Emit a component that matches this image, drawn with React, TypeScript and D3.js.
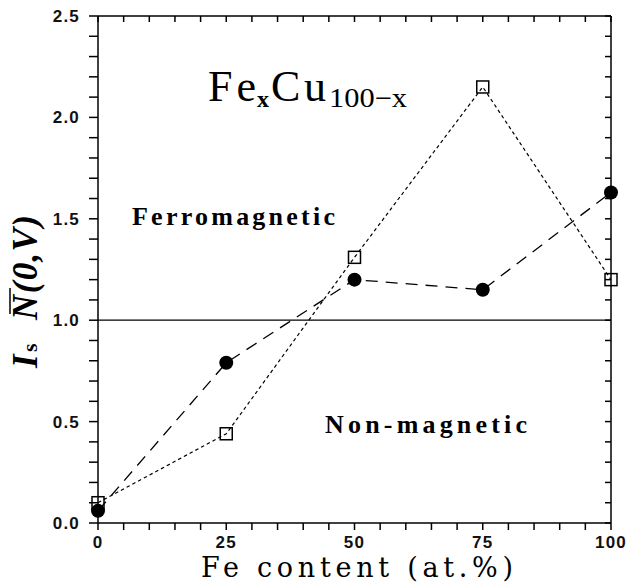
import React from "react";
import * as d3 from "d3";

const feContent = [0, 25, 50, 75, 100];
const circleValues = [0.06, 0.79, 1.2, 1.15, 1.63];
const squareValues = [0.1, 0.44, 1.31, 2.15, 1.2];
const xTickLabels = [0, 25, 50, 75, 100];
const yTickLabels = [0, 0.5, 1.0, 1.5, 2.0, 2.5];
const thresholdValue = 1.0;

const W = 629;
const H = 584;
const x = d3.scaleLinear().domain([0, 100]).range([98, 611]);
const y = d3.scaleLinear().domain([0, 2.5]).range([523, 16]);

export default function App() {
  const line = d3
    .line<number>()
    .x((_, i) => x(feContent[i]))
    .y((d) => y(d));
  const xMinor = d3.range(0, 101, 5);
  const yMinor = d3.range(0, 26, 1).map((v) => v / 10);
  const tickFont = "Liberation Sans, Arial, sans-serif";
  const times = "Liberation Serif, Times New Roman, serif";
  const wide = "DejaVu Serif, serif";
  const x0 = x(0), x1 = x(100), y0 = y(0), y1 = y(2.5);
  return (
    <svg width={W} height={H} style={{ position: "absolute", left: 0, top: 0, background: "#fff" }}>
      <rect width={W} height={H} fill="#fff" />
      {/* frame */}
      <g stroke="#000" strokeWidth={1.5} fill="none">
        <line x1={x0} x2={x1} y1={y0} y2={y0} />
        <line x1={x0} x2={x1} y1={y1} y2={y1} />
        <line x1={x0} x2={x0} y1={y1} y2={y0} />
        <line x1={x1} x2={x1} y1={y1} y2={y0} />
        {xMinor.map((v) => (
          <g key={"xt" + v}>
            <line x1={x(v)} x2={x(v)} y1={y0} y2={y0 + 7} />
            <line x1={x(v)} x2={x(v)} y1={y1} y2={y1 + 6} />
          </g>
        ))}
        {yMinor.map((v) => (
          <g key={"yt" + v}>
            <line x1={x0 - 9} x2={x0} y1={y(v)} y2={y(v)} />
            <line x1={x1 - 6} x2={x1} y1={y(v)} y2={y(v)} />
          </g>
        ))}
      </g>
      {/* tick labels */}
      <g fontFamily={tickFont} fontWeight="bold" fontSize={17} fill="#111">
        {xTickLabels.map((v) => (
          <text key={"xl" + v} x={x(v)} y={548} textAnchor="middle" letterSpacing={1.2}>
            {v}
          </text>
        ))}
        {yTickLabels.map((v) => (
          <text key={"yl" + v} x={80} y={y(v) + 6} textAnchor="end" letterSpacing={1.2}>
            {v.toFixed(1)}
          </text>
        ))}
      </g>
      {/* threshold line */}
      <line x1={x0} x2={x1} y1={y(thresholdValue)} y2={y(thresholdValue)} stroke="#000" strokeWidth={1.2} />
      {/* series lines */}
      <path d={line(circleValues) || ""} fill="none" stroke="#000" strokeWidth={1.3} strokeDasharray="12 8" />
      <path d={line(squareValues) || ""} fill="none" stroke="#000" strokeWidth={1.2} strokeDasharray="3.5 3" />
      {circleValues.map((v, i) => (
        <circle key={"c" + i} cx={x(feContent[i])} cy={y(v)} r={7} fill="#000" />
      ))}
      {squareValues.map((v, i) => (
        <rect
          key={"s" + i}
          x={x(feContent[i]) - 6}
          y={y(v) - 6}
          width={12}
          height={12}
          fill="none"
          stroke="#000"
          strokeWidth={1.5}
        />
      ))}
      {/* title */}
      <g fontFamily={times} fill="#000">
        <text x={208} y={101} fontSize={44} textLength={48} lengthAdjust="spacing">Fe</text>
        <text x={257} y={107} fontSize={24} fontWeight="bold">x</text>
        <text x={271} y={101} fontSize={44} textLength={55} lengthAdjust="spacing">Cu</text>
        <text x={329} y={107} fontSize={27} textLength={78} lengthAdjust="spacingAndGlyphs">100−x</text>
      </g>
      <text x={132} y={225} fontFamily={times} fontWeight="bold" fontSize={26} textLength={203} lengthAdjust="spacing">
        Ferromagnetic
      </text>
      <text x={325} y={433} fontFamily={times} fontWeight="bold" fontSize={26} textLength={202} lengthAdjust="spacing">
        Non-magnetic
      </text>
      {/* x axis label */}
      <text x={201} y={577} fontFamily={wide} fontSize={27} textLength={312} lengthAdjust="spacing">
        Fe content (at.%)
      </text>
      {/* y axis label */}
      <g transform="translate(37,290) rotate(-90)" fontFamily={times} fontWeight="bold" fontStyle="italic" fill="#000">
        <text x={-78} y={0} fontSize={35}>I</text>
        <text x={-62} y={0} fontSize={22} fontStyle="normal">s</text>
        <text x={-30} y={0} fontSize={35} textLength={105} lengthAdjust="spacing">N(0,V)</text>
        <line x1={-24} x2={2} y1={-27} y2={-27} stroke="#000" strokeWidth={1.5} />
      </g>
    </svg>
  );
}
